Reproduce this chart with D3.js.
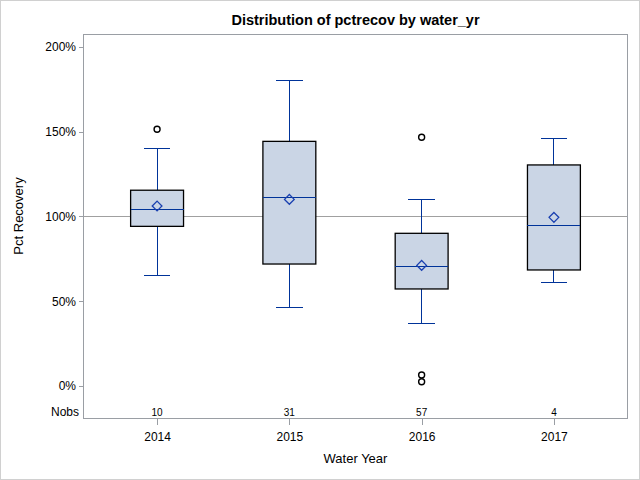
<!DOCTYPE html>
<html>
<head>
<meta charset="utf-8">
<script src="https://cdn.jsdelivr.net/npm/d3@7"></script>
<style>
  body { margin: 0; background: #fff; }
  svg { display: block; font-family: "Liberation Sans", Arial, sans-serif; }
  line { shape-rendering: crispEdges; }
</style>
</head>
<body>
<div id="chart"></div>
<script>
// values (fractions, 1 = 100%)
var years = ["2014", "2015", "2016", "2017"];
var nobs = [10, 31, 57, 4];
var whiskerLow = [0.654, 0.464, 0.371, 0.611];
var q1 = [0.941, 0.719, 0.572, 0.684];
var median = [1.043, 1.112, 0.707, 0.947];
var q3 = [1.154, 1.442, 0.900, 1.303];
var whiskerHigh = [1.401, 1.802, 1.100, 1.460];
var means = [1.061, 1.100, 0.711, 0.994];
var outliers = [[1.513], [], [1.466, 0.065, 0.025], []];
var yTicks = [0, 0.5, 1, 1.5, 2];
var refValue = 1;

var width = 640, height = 480;
var plot = {left: 83, right: 628, top: 34, bottom: 419};

var svg = d3.select("#chart").append("svg")
    .attr("width", width)
    .attr("height", height);

svg.append("rect")
    .attr("x", 0.5).attr("y", 0.5)
    .attr("width", width - 1).attr("height", height - 1)
    .attr("fill", "#fff")
    .attr("stroke", "#d0d0d0");

var x = d3.scalePoint()
    .domain(years)
    .range([plot.left, plot.right])
    .padding(0.56);

var y = d3.scaleLinear()
    .domain([0, 2])
    .range([386, 46.7]);

var boxW = x.step() * 0.4;
var capW = boxW / 2;

// title
svg.append("text")
    .attr("x", (plot.left + plot.right) / 2)
    .attr("y", 25)
    .attr("text-anchor", "middle")
    .style("font-size", "14.5px")
    .style("font-weight", "bold")
    .text("Distribution of pctrecov by water_yr");

// y axis
var yAxis = d3.axisLeft(y)
    .tickValues(yTicks)
    .tickFormat(d3.format(".0%"))
    .tickSize(4)
    .tickPadding(3);

var gy = svg.append("g")
    .attr("transform", "translate(" + plot.left + ",0)")
    .call(yAxis);
gy.select(".domain").remove();
gy.selectAll(".tick line").attr("stroke", "#9a9ea4");
gy.selectAll(".tick text")
    .attr("fill", "#000")
    .style("font-size", "12px")
    .style("font-family", "Liberation Sans, Arial, sans-serif");

// x axis
var xAxis = d3.axisBottom(x)
    .tickSize(6)
    .tickPadding(7);

var gx = svg.append("g")
    .attr("transform", "translate(0," + plot.bottom + ")")
    .call(xAxis);
gx.select(".domain").remove();
gx.selectAll(".tick line").attr("stroke", "#9a9ea4");
gx.selectAll(".tick text")
    .attr("fill", "#000")
    .style("font-size", "12px")
    .style("font-family", "Liberation Sans, Arial, sans-serif");

// axis labels
svg.append("text")
    .attr("x", (plot.left + plot.right) / 2)
    .attr("y", 463)
    .attr("text-anchor", "middle")
    .style("font-size", "13px")
    .text("Water Year");

svg.append("text")
    .attr("transform", "translate(23,216) rotate(-90)")
    .attr("text-anchor", "middle")
    .style("font-size", "13px")
    .text("Pct Recovery");

// reference line
svg.append("line")
    .attr("x1", plot.left).attr("x2", plot.right)
    .attr("y1", y(refValue)).attr("y2", y(refValue))
    .attr("stroke", "#a0a0a0")
    .attr("stroke-width", 1);

var blue = "#003399";

var box = svg.selectAll(".box")
    .data(years)
    .enter().append("g")
    .attr("class", "box")
    .attr("transform", function(d) { return "translate(" + x(d) + ",0)"; });

// whiskers
box.append("line")
    .attr("y1", function(d, i) { return y(whiskerLow[i]); })
    .attr("y2", function(d, i) { return y(q1[i]); })
    .attr("stroke", blue);
box.append("line")
    .attr("y1", function(d, i) { return y(q3[i]); })
    .attr("y2", function(d, i) { return y(whiskerHigh[i]); })
    .attr("stroke", blue);
box.append("line")
    .attr("x1", -capW / 2).attr("x2", capW / 2)
    .attr("y1", function(d, i) { return y(whiskerLow[i]); })
    .attr("y2", function(d, i) { return y(whiskerLow[i]); })
    .attr("stroke", blue);
box.append("line")
    .attr("x1", -capW / 2).attr("x2", capW / 2)
    .attr("y1", function(d, i) { return y(whiskerHigh[i]); })
    .attr("y2", function(d, i) { return y(whiskerHigh[i]); })
    .attr("stroke", blue);

// box
box.append("rect")
    .attr("x", -boxW / 2)
    .attr("width", boxW)
    .attr("y", function(d, i) { return y(q3[i]); })
    .attr("height", function(d, i) { return y(q1[i]) - y(q3[i]); })
    .attr("fill", "#cad5e5")
    .attr("stroke", "#000")
    .attr("stroke-width", 1.3);

// median
box.append("line")
    .attr("x1", -boxW / 2).attr("x2", boxW / 2)
    .attr("y1", function(d, i) { return y(median[i]); })
    .attr("y2", function(d, i) { return y(median[i]); })
    .attr("stroke", blue);

// mean diamond
box.append("path")
    .attr("d", d3.symbol().type(d3.symbolDiamond2).size(60))
    .attr("transform", function(d, i) { return "translate(0," + y(means[i]) + ")"; })
    .attr("fill", "none")
    .attr("stroke", "#1a40b0")
    .attr("stroke-width", 1.3);

// outliers
box.selectAll(".outlier")
    .data(function(d, i) { return outliers[i]; })
    .enter().append("circle")
    .attr("class", "outlier")
    .attr("cy", function(v) { return y(v); })
    .attr("r", 3)
    .attr("fill", "none")
    .attr("stroke", "#000")
    .attr("stroke-width", 1.4);

// Nobs inset
svg.append("text")
    .attr("x", plot.left - 4)
    .attr("y", 412)
    .attr("dy", "0.35em")
    .attr("text-anchor", "end")
    .style("font-size", "12px")
    .text("Nobs");

svg.selectAll(".nobs")
    .data(years)
    .enter().append("text")
    .attr("class", "nobs")
    .attr("x", function(d) { return x(d); })
    .attr("y", 412)
    .attr("dy", "0.35em")
    .attr("text-anchor", "middle")
    .style("font-size", "10px")
    .text(function(d, i) { return nobs[i]; });

// frame
svg.append("rect")
    .attr("x", plot.left + 0.5).attr("y", plot.top + 0.5)
    .attr("width", plot.right - plot.left - 1)
    .attr("height", plot.bottom - plot.top - 1)
    .attr("fill", "none")
    .attr("stroke", "#9a9ea4");
</script>
</body>
</html>
